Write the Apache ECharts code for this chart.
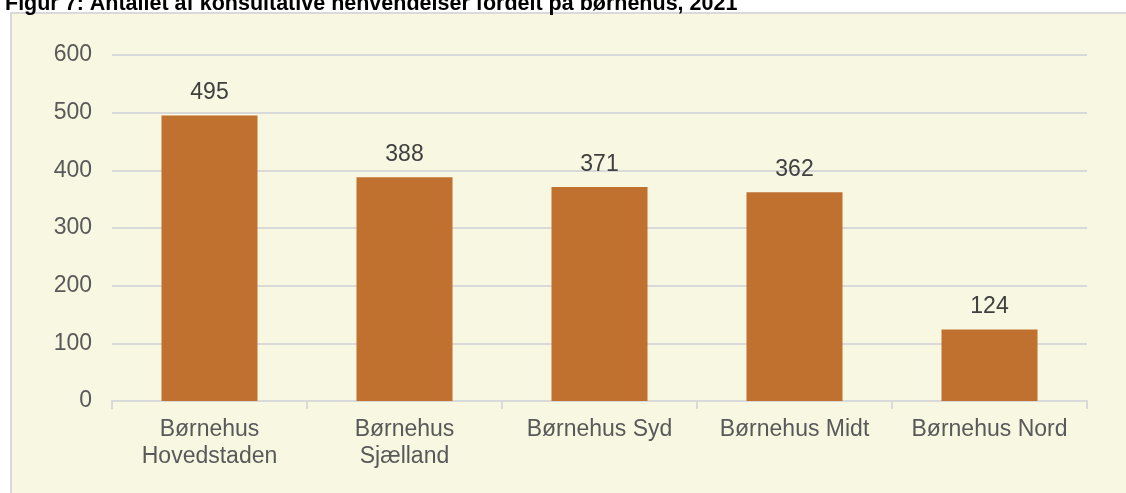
<!DOCTYPE html>
<html>
<head>
<meta charset="utf-8">
<script src="https://cdn.jsdelivr.net/npm/echarts@6/dist/echarts.min.js"></script>
<style>
  html, body { margin: 0; padding: 0; background: #fff; }
  #chart { width: 1126px; height: 493px; }
</style>
</head>
<body>
<div id="chart"></div>
<script>
var categories = ['Børnehus\nHovedstaden', 'Børnehus\nSjælland', 'Børnehus Syd', 'Børnehus Midt', 'Børnehus Nord'];
var values = [495, 388, 371, 362, 124];
var titleText = 'Figur 7: Antallet af konsultative henvendelser fordelt på børnehus, 2021';

var barColor = '#c0702f';
var gridColor = '#d9d9d9';
var textColor = '#595959';
var fontFam = '"Liberation Sans", Arial, sans-serif';

var option = {
    animation: false,
    backgroundColor: '#ffffff',
    graphic: [
        {
            type: 'rect',
            z: -10,
            shape: { x: 11, y: 13, width: 1130, height: 500 },
            style: { fill: '#f8f7e1', stroke: '#d9d9d9', lineWidth: 2 }
        },
        {
            type: 'text',
            left: 5,
            top: -7,
            style: {
                text: titleText,
                font: 'bold 21.5px ' + fontFam,
                fill: '#000'
            }
        }
    ],
    grid: {
        left: 112,
        right: 39,
        top: 55,
        bottom: 92
    },
    xAxis: {
        type: 'category',
        data: categories,
        axisLine: { lineStyle: { color: gridColor, width: 2 } },
        axisTick: { show: true, interval: 0, length: 8, lineStyle: { color: gridColor, width: 2 } },
        axisLabel: {
            interval: 0,
            color: textColor,
            fontFamily: fontFam,
            fontSize: 23,
            lineHeight: 27,
            margin: 15
        }
    },
    yAxis: {
        type: 'value',
        min: 0,
        max: 600,
        interval: 100,
        axisLine: { show: false },
        axisTick: { show: false },
        splitLine: { lineStyle: { color: gridColor, width: 2 } },
        axisLabel: {
            color: textColor,
            fontFamily: fontFam,
            fontSize: 23,
            margin: 20
        }
    },
    series: [
        {
            type: 'bar',
            data: values,
            barWidth: 96,
            itemStyle: { color: barColor },
            label: {
                show: true,
                position: 'top',
                distance: 11,
                color: '#404040',
                fontFamily: fontFam,
                fontSize: 23
            }
        }
    ]
};

var myChart = echarts.init(document.getElementById('chart'));
myChart.setOption(option);
</script>
</body>
</html>
